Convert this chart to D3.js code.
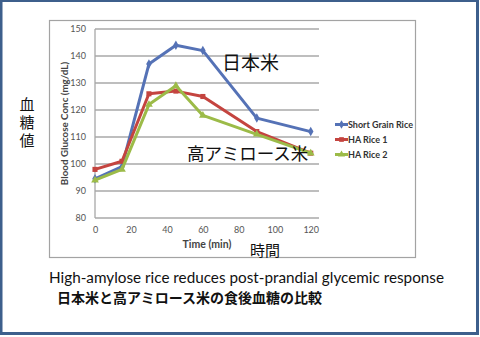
<!DOCTYPE html>
<html><head><meta charset="utf-8">
<script src="https://cdn.jsdelivr.net/npm/d3@7"></script>
<style>html,body{margin:0;padding:0;background:#fff;}svg{display:block;}</style>
</head><body>
<svg id="c" width="480" height="337"></svg>
<script>
const times = [0, 15, 30, 45, 60, 90, 120];
const shortGrain = [94.5, 99, 137, 144, 142, 117, 112];
const haRice1 = [98, 101, 126, 127, 125, 112, 104];
const haRice2 = [94, 98, 122, 129, 118, 111, 104];
const seriesNames = ["Short Grain Rice", "HA Rice 1", "HA Rice 2"];
const seriesColors = ["#5572b6", "#c4443f", "#9cbb48"];
const seriesMarkers = ["diamond", "square", "triangle"];
const xTicks = [0, 20, 40, 60, 80, 100, 120];
const yTicks = [80, 90, 100, 110, 120, 130, 140, 150];

const svg = d3.select("#c");
const CJK = "'Noto Sans CJK JP', sans-serif";
const LAT = "Lato, 'Open Sans', sans-serif";

// outer blue frame
svg.append("rect").attr("x", 1).attr("y", 0.5).attr("width", 476.5).attr("height", 333)
  .attr("fill", "#fff").attr("stroke", "#3d5f8c").attr("stroke-width", 3);

// chart frame
svg.append("rect").attr("x", 49.5).attr("y", 20.5).attr("width", 366).attr("height", 237)
  .attr("fill", "#fff").attr("stroke", "#a3a3a3").attr("stroke-width", 1.2);

const x = d3.scaleLinear().domain([0, 124.6]).range([95, 319]);
const y = d3.scaleLinear().domain([80, 150]).range([218, 29]);

// gridlines
svg.append("g").selectAll("line").data(yTicks).join("line")
  .attr("x1", x(0)).attr("x2", x(124.6))
  .attr("y1", d => y(d)).attr("y2", d => y(d))
  .attr("stroke", "#a8a8a8").attr("stroke-width", 1.3);
// y axis line
svg.append("line").attr("x1", x(0)).attr("x2", x(0)).attr("y1", y(150)).attr("y2", y(80))
  .attr("stroke", "#a8a8a8").attr("stroke-width", 1.3);

// axes via d3 (tick labels only)
const yAxis = svg.append("g").attr("transform", `translate(${x(0)},0)`)
  .call(d3.axisLeft(y).tickValues(yTicks).tickSize(0).tickPadding(9));
const xAxis = svg.append("g").attr("transform", `translate(0,${y(80)})`)
  .call(d3.axisBottom(x).tickValues(xTicks).tickSize(0).tickPadding(9));
[yAxis, xAxis].forEach(a => {
  a.select(".domain").remove();
  a.selectAll("text").attr("font-family", LAT).attr("font-size", 9).attr("fill", "#555");
});

// axis titles
svg.append("text").attr("transform", `translate(68,${(y(80) + y(150)) / 2}) rotate(-90)`)
  .attr("text-anchor", "middle").attr("font-family", LAT).attr("font-weight", "bold")
  .attr("font-size", 9.8).attr("fill", "#444").text("Blood Glucose Conc (mg/dL)");
svg.append("text").attr("x", 207).attr("y", 248).attr("text-anchor", "middle")
  .attr("font-family", LAT).attr("font-weight", "bold").attr("font-size", 10.5)
  .attr("fill", "#444").text("Time (min)");

// series
const allSeries = [shortGrain, haRice1, haRice2];
const line = d3.line().x((d, i) => x(times[i])).y(d => y(d));
const symType = { diamond: d3.symbolDiamond, square: d3.symbolSquare, triangle: d3.symbolTriangle };
allSeries.forEach((vals, s) => {
  svg.append("path").datum(vals).attr("d", line).attr("fill", "none")
    .attr("stroke", seriesColors[s]).attr("stroke-width", 3).attr("stroke-linejoin", "round");
  svg.append("g").selectAll("path").data(vals).join("path")
    .attr("transform", (d, i) => `translate(${x(times[i])},${y(d)})`)
    .attr("d", d3.symbol().type(symType[seriesMarkers[s]]).size(26))
    .attr("fill", seriesColors[s]);
});

// legend
const lg = svg.append("g");
seriesNames.forEach((n, i) => {
  const yy = 124.5 + i * 15;
  lg.append("line").attr("x1", 335).attr("x2", 348).attr("y1", yy).attr("y2", yy)
    .attr("stroke", seriesColors[i]).attr("stroke-width", 3);
  lg.append("path").attr("transform", `translate(341.5,${yy})`)
    .attr("d", d3.symbol().type(symType[seriesMarkers[i]]).size(22)).attr("fill", seriesColors[i]);
  lg.append("text").attr("x", 348).attr("y", yy + 3.2).attr("font-family", LAT)
    .attr("font-weight", "bold").attr("font-size", 9).attr("fill", "#333").text(n);
});

// Japanese annotations
svg.append("text").attr("x", 222).attr("y", 70).attr("font-family", CJK)
  .attr("font-size", 19).attr("fill", "#111").text("日本米");
svg.append("text").attr("x", 187).attr("y", 160).attr("font-family", CJK)
  .attr("font-size", 17.5).attr("fill", "#111").text("高アミロース米");
svg.append("text").attr("x", 250).attr("y", 256).attr("font-family", CJK)
  .attr("font-size", 15).attr("fill", "#111").text("時間");
svg.append("text").attr("x", 27).attr("y", 97).attr("font-family", CJK)
  .attr("font-size", 15).attr("fill", "#111")
  .style("writing-mode", "vertical-rl").style("letter-spacing", "3px").text("血糖値");

// captions
svg.append("text").attr("x", 49).attr("y", 283).attr("font-family", LAT)
  .attr("font-size", 16).attr("fill", "#111")
  .attr("textLength", 395).attr("lengthAdjust", "spacingAndGlyphs")
  .text("High-amylose rice reduces post-prandial glycemic response");
svg.append("text").attr("x", 57).attr("y", 303).attr("font-family", CJK)
  .attr("font-weight", "bold").attr("font-size", 14).attr("fill", "#111")
  .text("日本米と高アミロース米の食後血糖の比較");
</script>
</body></html>
